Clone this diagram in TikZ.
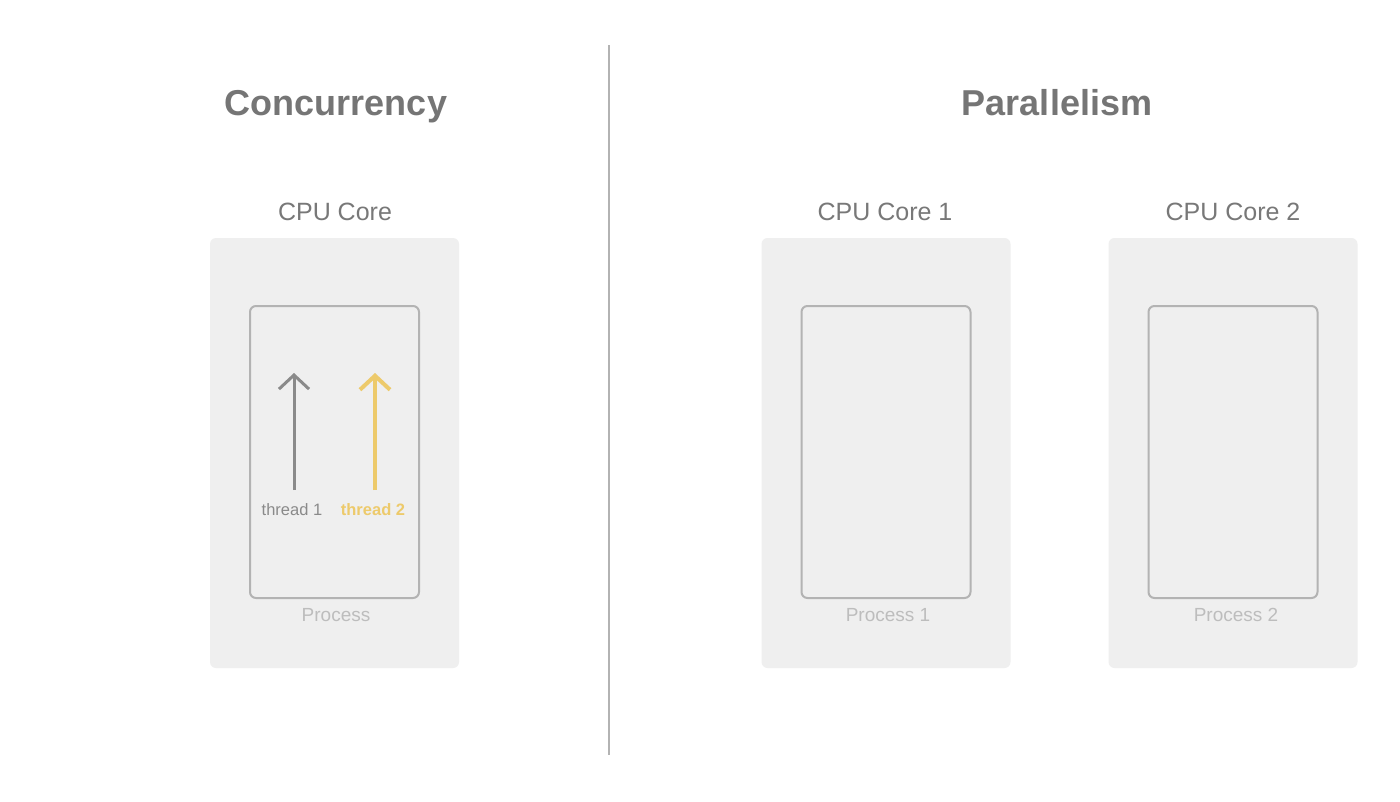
\documentclass[tikz,border=0pt]{standalone}
\usepackage{fontspec}
\setmainfont{Liberation Sans}
\usetikzlibrary{arrows.meta,positioning}
\definecolor{titlegray}{HTML}{757575}
\definecolor{coregray}{HTML}{787878}
\definecolor{procgray}{HTML}{BDBDBD}
\definecolor{boxfill}{HTML}{EFEFEF}
\definecolor{procline}{HTML}{B3B3B3}
\definecolor{threadgray}{HTML}{8A8A8A}
\definecolor{threadyellow}{HTML}{EDCA6B}
\tikzset{
  heading/.style={anchor=base, text=titlegray, font=\fontsize{36}{40}\selectfont\bfseries},
  corelabel/.style={text=coregray, font=\fontsize{25}{28}\selectfont},
  corebox/.style={fill=boxfill, rounded corners=6pt, minimum width=249pt, minimum height=430pt, inner sep=0pt},
  procbox/.style={draw=procline, line width=2pt, rounded corners=6pt, minimum width=169pt, minimum height=292pt, inner sep=0pt},
  proclabel/.style={text=procgray, font=\fontsize{19}{22}\selectfont},
  threadlabel/.style={font=\fontsize{16.5}{19}\selectfont},
}
\begin{document}
\begin{tikzpicture}[x=1pt, y=-1pt]
  \useasboundingbox[fill=white] (0,0) rectangle (1400,801);
  % divider
  \coordinate (divtop) at (609,45);
  \coordinate (divbot) at (609,755);
  \draw[procline, line width=2pt] (divtop) -- (divbot);
  % headings
  \node[heading] (conc) at (336,115) {Concurrency};
  \node[heading] (para) at (1057,115) {Parallelism};
  % concurrency side
  \node[corelabel] (core) at (335,212) {CPU Core};
  \node[corebox] (corebg) at (334.5,453) {};
  \node[procbox] (proc) at (334.5,452) {};
  \node[proclabel] (proclbl) at (336,615) {Process};
  \node[threadlabel, text=threadgray] (t1) at (292,510) {thread 1};
  \node[threadlabel, text=threadyellow, font=\fontsize{16.5}{19}\selectfont\bfseries] (t2) at (373,510) {thread 2};
  \coordinate (t1b) at (294,490);
  \coordinate (t1t) at (294,373);
  \coordinate (t2b) at (375,490);
  \coordinate (t2t) at (375,373);
  \draw[threadgray, line width=3pt, -{Straight Barb[length=14pt, width=30pt]}] (t1b) -- (t1t);
  \draw[threadyellow, line width=4pt, -{Straight Barb[length=14pt, width=30pt]}] (t2b) -- (t2t);
  % parallelism side
  \node[corelabel] (core1) at (885,212) {CPU Core 1};
  \node[corebox] (core1bg) at (886,453) {};
  \node[procbox] (proc1) at (886,452) {};
  \node[proclabel] (proc1lbl) at (888,615) {Process 1};
  \node[corelabel] (core2) at (1233,212) {CPU Core 2};
  \node[corebox] (core2bg) at (1233,453) {};
  \node[procbox] (proc2) at (1233,452) {};
  \node[proclabel] (proc2lbl) at (1236,615) {Process 2};
\end{tikzpicture}
\end{document}
